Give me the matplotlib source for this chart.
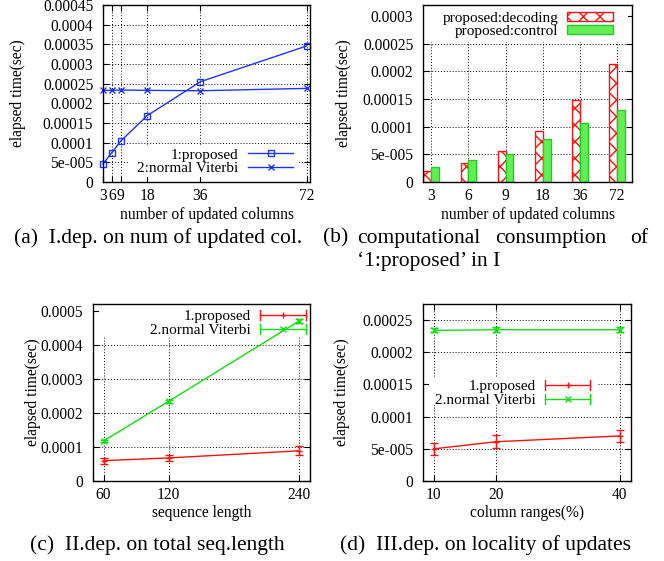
import numpy as np
import matplotlib
matplotlib.use('Agg')
import matplotlib.pyplot as plt
from matplotlib.lines import Line2D
from matplotlib.patches import Rectangle
from matplotlib.legend_handler import HandlerBase

plt.rcParams['font.family'] = ['Liberation Serif', 'DejaVu Serif']
plt.rcParams['hatch.linewidth'] = 1.0

# ---------------- data ----------------
# (a) dependence on number of updated columns
cols_a = [3, 6, 9, 18, 36, 72]
proposed_a = [4.6e-5, 7.5e-5, 1.04e-4, 1.69e-4, 2.55e-4, 3.46e-4]
viterbi_a = [2.33e-4, 2.33e-4, 2.34e-4, 2.33e-4, 2.32e-4, 2.38e-4]
yticks_a = [0, 5e-5, 1e-4, 1.5e-4, 2e-4, 2.5e-4, 3e-4, 3.5e-4, 4e-4, 4.5e-4]
ylabels_a = ['0', '5e-005', '0.0001', '0.00015', '0.0002', '0.00025',
             '0.0003', '0.00035', '0.0004', '0.00045']

# (b) computational consumption of proposed
cats_b = ['3', '6', '9', '18', '36', '72']
decoding_b = [1.9e-5, 3.5e-5, 5.55e-5, 9.3e-5, 1.49e-4, 2.14e-4]
control_b = [2.7e-5, 3.9e-5, 5.0e-5, 7.7e-5, 1.06e-4, 1.31e-4]
yticks_b = [0, 5e-5, 1e-4, 1.5e-4, 2e-4, 2.5e-4, 3e-4]
ylabels_b = ['0', '5e-005', '0.0001', '0.00015', '0.0002', '0.00025', '0.0003']

# (c) dependence on total sequence length
seq_c = [60, 120, 240]
proposed_c = [5.9e-5, 6.7e-5, 8.8e-5]
proposed_err_c = [0.9e-5, 1.0e-5, 1.3e-5]
viterbi_c = [1.17e-4, 2.34e-4, 4.70e-4]
viterbi_err_c = [4e-6, 4e-6, 5e-6]
yticks_c = [0, 1e-4, 2e-4, 3e-4, 4e-4, 5e-4]
ylabels_c = ['0', '0.0001', '0.0002', '0.0003', '0.0004', '0.0005']

# (d) dependence on locality of updates
ranges_d = [10, 20, 40]
proposed_d = [5.0e-5, 6.1e-5, 7.0e-5]
proposed_err_d = [0.9e-5, 1.0e-5, 1.0e-5]
viterbi_d = [2.34e-4, 2.35e-4, 2.35e-4]
viterbi_err_d = [3e-6, 4e-6, 4e-6]
yticks_d = [0, 5e-5, 1e-4, 1.5e-4, 2e-4, 2.5e-4]
ylabels_d = ['0', '5e-005', '0.0001', '0.00015', '0.0002', '0.00025']

# ---------------- styling ----------------
W, H = 664, 561
FS = 11.2
LFS = 11.0
CAP_FS = 15.5
BLUE = '#2034ff'
RED = '#ff1010'
GREEN = '#10e010'

fig = plt.figure(figsize=(W / 100, H / 100), dpi=100)


def rect(l, t, r, b):
    return [l / W, 1 - b / H, (r - l) / W, (b - t) / H]


def style(ax):
    ax.tick_params(direction='in', top=True, right=True, length=4, width=0.8,
                   labelsize=FS)
    ax.tick_params(axis='x', pad=4.5)
    ax.tick_params(axis='y', pad=7)
    for s in ax.spines.values():
        s.set_linewidth(1.0)
    ax.grid(True, color='black', linestyle=(0, (1, 2)), linewidth=0.7)
    ax.set_axisbelow(True)


def keybox(ax, x0, y0, x1, y1):
    # opaque key area hiding the grid, as in the reference
    ax.add_patch(Rectangle((x0, y0), x1 - x0, y1 - y0, transform=ax.transAxes,
                           facecolor='white', edgecolor='none', zorder=0.8))


class ErrKey(HandlerBase):
    def create_artists(self, legend, orig_handle, xdescent, ydescent,
                       width, height, fontsize, trans):
        c = orig_handle.get_color()
        m = orig_handle.get_marker()
        y = height / 2 - ydescent
        x0, x1 = -xdescent, -xdescent + width
        cap = 3.5
        arts = [Line2D([x0, x1], [y, y], color=c, lw=1),
                Line2D([x0, x0], [y - cap, y + cap], color=c, lw=1),
                Line2D([x1, x1], [y - cap, y + cap], color=c, lw=1),
                Line2D([(x0 + x1) / 2], [y], marker=m, color=c, ms=5,
                       ls='none', mew=1)]
        for a in arts:
            a.set_transform(trans)
        return arts


leg_kw = dict(frameon=False, markerfirst=False, handlelength=3,
              handletextpad=0.6, labelspacing=0.0, borderpad=0.2,
              borderaxespad=0, fontsize=LFS)

# ---------------- (a) ----------------
ax = fig.add_axes(rect(103, 5, 310, 182))
style(ax)
ax.plot(cols_a, proposed_a, color=BLUE, lw=1, marker='s', ms=5,
        mfc='none', mew=1, label='1:proposed', clip_on=False)
ax.plot(cols_a, viterbi_a, color=BLUE, lw=1, marker='x', ms=5, mew=1,
        label='2:normal Viterbi', clip_on=False)
ax.set_xlim(3, 73.1)
ax.set_ylim(0, 4.5e-4)
ax.set_xticks(cols_a, [str(c) for c in cols_a])
ax.set_yticks(yticks_a, ylabels_a)
ax.set_xlabel('number of updated columns', fontsize=FS)
ax.set_ylabel('elapsed time(sec)', fontsize=FS)
ax.xaxis.set_label_coords(0.5, -0.14)
ax.yaxis.set_label_coords(-0.37, 0.5)
keybox(ax, 0.12, 0.028, 0.945, 0.21)
ax.legend(loc='lower right', bbox_to_anchor=(0.935, 0.02), **leg_kw)

# ---------------- (b) ----------------
ax = fig.add_axes(rect(423, 5, 632, 182))
style(ax)
x = np.arange(len(cats_b))
w = 0.21
ax.bar(x - w / 2, decoding_b, w, facecolor='white', edgecolor=RED,
       hatch='xx', lw=1, label='proposed:decoding')
ax.bar(x + w / 2, control_b, w, facecolor='#62ee55', edgecolor='#20d020',
       lw=1, label='proposed:control')
ax.set_xlim(-0.22, 5.4)
ax.set_ylim(0, 3.2e-4)
ax.set_xticks(x, cats_b)
ax.set_yticks(yticks_b, ylabels_b)
ax.set_xlabel('number of updated columns', fontsize=FS)
ax.set_ylabel('elapsed time(sec)', fontsize=FS)
ax.xaxis.set_label_coords(0.5, -0.14)
ax.yaxis.set_label_coords(-0.342, 0.5)
keybox(ax, 0.0, 0.79, 0.98, 1.0)
kw_b = dict(leg_kw)
kw_b['handleheight'] = 0.5
ax.legend(loc='upper right', bbox_to_anchor=(0.925, 0.98), **kw_b)

# ---------------- (c) ----------------
ax = fig.add_axes(rect(92.7, 304, 310, 480.7))
style(ax)
ax.errorbar(seq_c, proposed_c, yerr=proposed_err_c, color=RED, lw=1,
            marker='+', ms=5, mew=1, capsize=3, capthick=1, elinewidth=1)
ax.errorbar(seq_c, viterbi_c, yerr=viterbi_err_c, color=GREEN, lw=1,
            marker='x', ms=5, mew=1, capsize=3, capthick=1, elinewidth=1)
ax.set_xlim(50, 250)
ax.set_ylim(0, 5.2e-4)
ax.set_xticks(seq_c, [str(s) for s in seq_c])
ax.set_yticks(yticks_c, ylabels_c)
ax.set_xlabel('sequence length', fontsize=FS)
ax.set_ylabel('elapsed time(sec)', fontsize=FS)
ax.xaxis.set_label_coords(0.5, -0.138)
ax.yaxis.set_label_coords(-0.236, 0.5)
keybox(ax, 0.03, 0.815, 1.0, 1.0)
hc = [Line2D([], [], color=RED, marker='+'),
      Line2D([], [], color=GREEN, marker='x')]
ax.legend(hc, ['1.proposed', '2.normal Viterbi'], loc='upper right',
          bbox_to_anchor=(0.995, 0.985), handler_map={Line2D: ErrKey()},
          **leg_kw)

# ---------------- (d) ----------------
ax = fig.add_axes(rect(422.7, 304, 631, 481))
style(ax)
ax.errorbar(ranges_d, proposed_d, yerr=proposed_err_d, color=RED, lw=1,
            marker='+', ms=5, mew=1, capsize=3, capthick=1, elinewidth=1)
ax.errorbar(ranges_d, viterbi_d, yerr=viterbi_err_d, color=GREEN, lw=1,
            marker='x', ms=5, mew=1, capsize=3, capthick=1, elinewidth=1)
ax.set_xlim(8.2, 41.8)
ax.set_ylim(0, 2.75e-4)
ax.set_xticks(ranges_d, [str(r) for r in ranges_d])
ax.set_yticks(yticks_d, ylabels_d)
ax.set_xlabel('column ranges(%)', fontsize=FS)
ax.set_ylabel('elapsed time(sec)', fontsize=FS)
ax.xaxis.set_label_coords(0.5, -0.138)
ax.yaxis.set_label_coords(-0.347, 0.5)
keybox(ax, 0.03, 0.43, 0.84, 0.585)
hd = [Line2D([], [], color=RED, marker='+'),
      Line2D([], [], color=GREEN, marker='x')]
ax.legend(hd, ['1.proposed', '2.normal Viterbi'], loc='upper right',
          bbox_to_anchor=(0.82, 0.59), handler_map={Line2D: ErrKey()},
          **leg_kw)

# ---------------- captions ----------------


def cap(xp, yp, s, ha='left'):
    fig.text(xp / W, 1 - yp / H, s, fontsize=CAP_FS, ha=ha, va='center')


cap(14, 238, '(a)  I.dep. on num of updated col.')
cap(323, 238, '(b)')
cap(357, 238, 'computational')
cap(551, 238, 'consumption', ha='center')
cap(648, 238, 'of', ha='right')
cap(357, 261, '\u20181:proposed\u2019 in I')
cap(30, 545, '(c)  II.dep. on total seq.length')
cap(340, 545, '(d)  III.dep. on locality of updates')

fig.savefig('out.png', dpi=100)
